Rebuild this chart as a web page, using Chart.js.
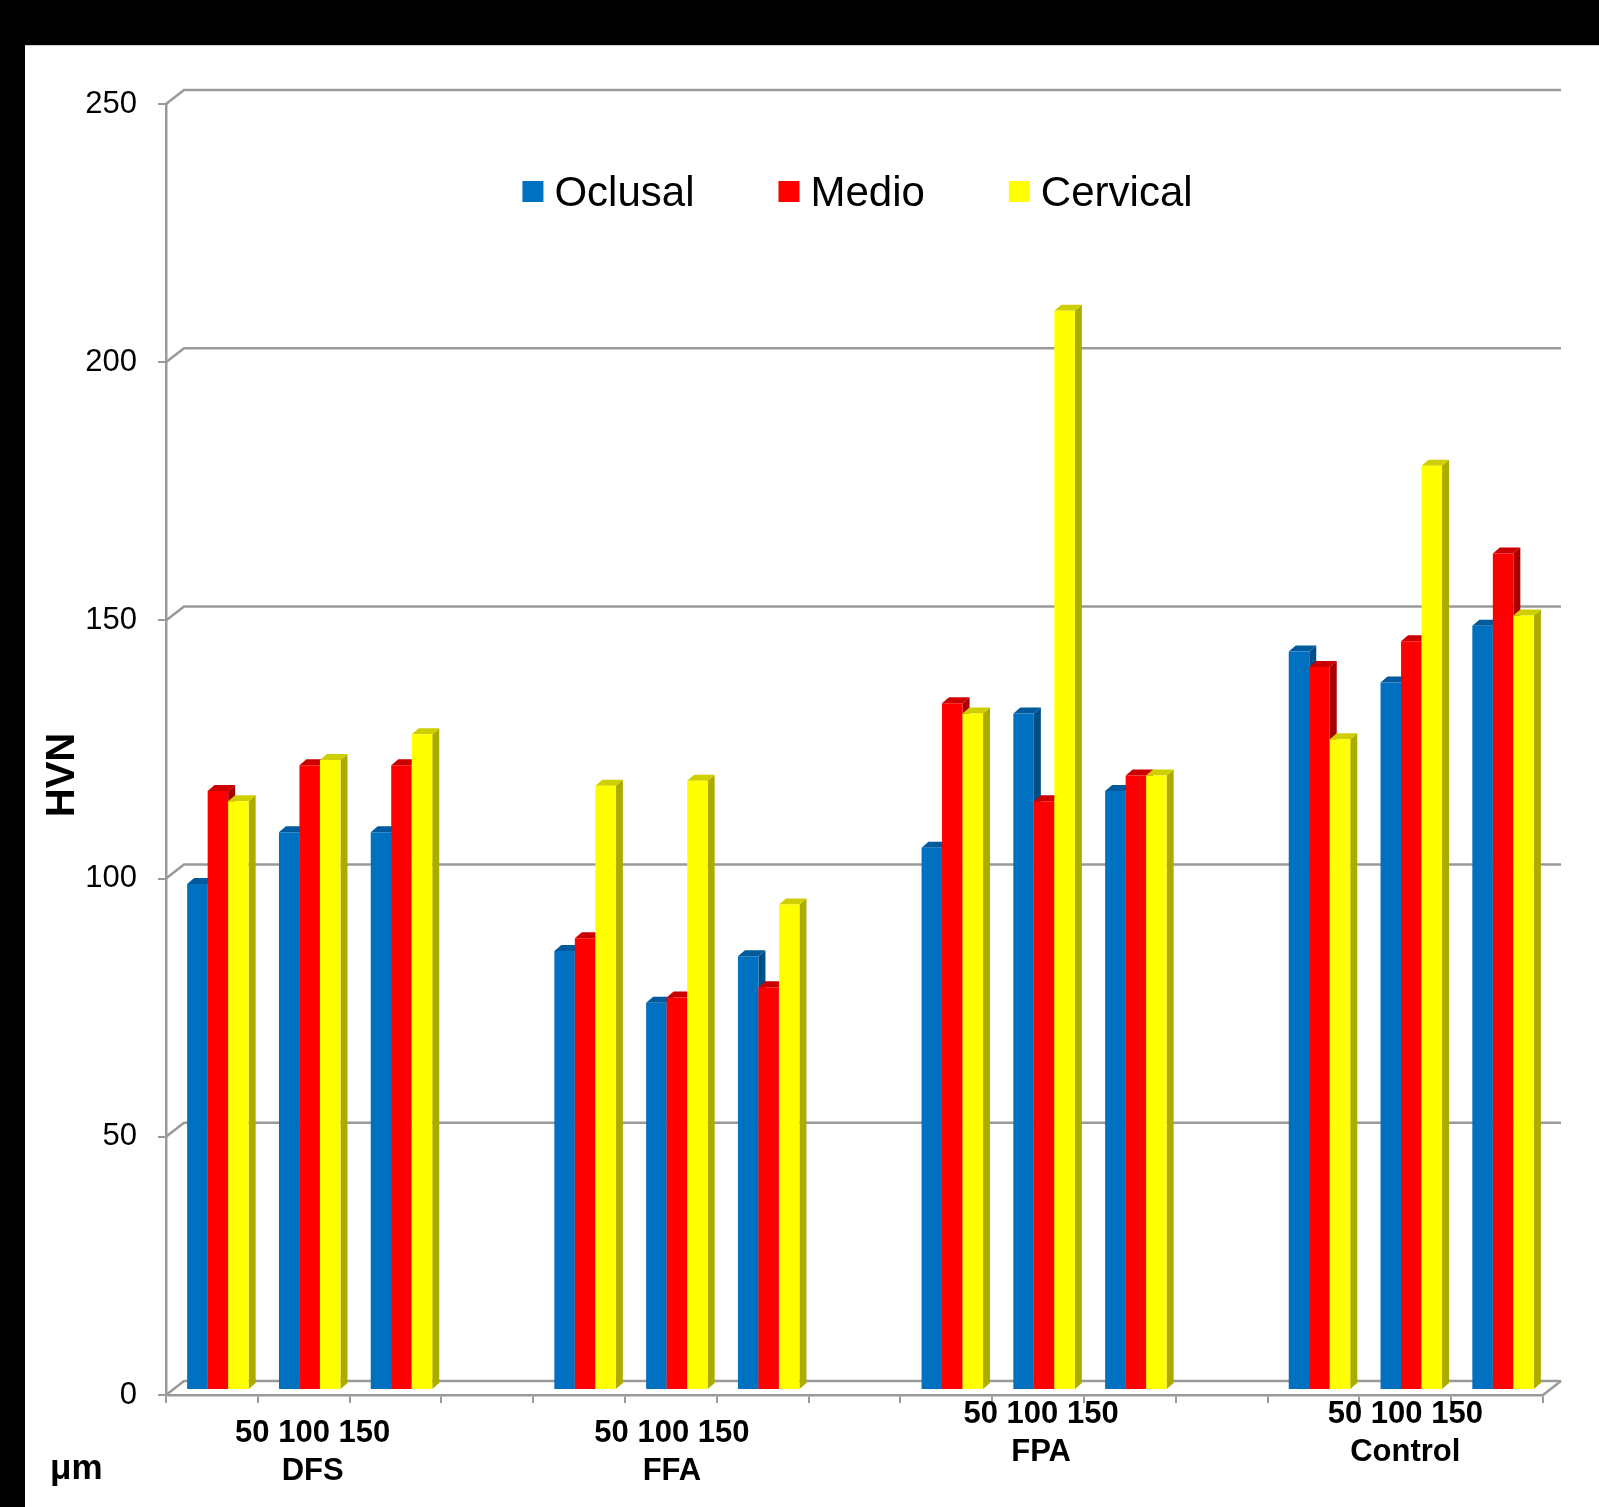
<!DOCTYPE html>
<html>
<head>
<meta charset="utf-8">
<title>HVN</title>
<script src="https://cdn.jsdelivr.net/npm/chart.js@4.4.1/dist/chart.umd.min.js"></script>
<style>
  html, body { margin: 0; padding: 0; background: #000; overflow: hidden; }
  canvas { display: block; }
</style>
</head>
<body>
<canvas id="chart" width="1599" height="1507"></canvas>
<script>
// ---- data ----
const groups = ['DFS', 'FFA', 'FPA', 'Control'];
const sizes = ['50', '100', '150'];
const unitLabel = 'μm';
const seriesNames = ['Oclusal', 'Medio', 'Cervical'];
// values per group, in order 50 / 100 / 150 µm
const oclusal  = [98, 108, 108,   85, 75, 84,    105, 131, 116,   143, 137, 148];
const medio    = [116, 121, 121,  87.5, 76, 78,  133, 114, 119,   140, 145, 162];
const cervical = [114, 122, 127,  117, 118, 94,  131, 209, 119,   126, 179, 150];
const yTicks = [0, 50, 100, 150, 200, 250];

// ---- styling ----
const FONT = "'Liberation Sans', Arial, Helvetica, sans-serif";
const axisGray = '#9a9a9a';
const faces = [
  { front: '#0070C0', top: '#005A9C', side: '#004E86' },
  { front: '#FF0000', top: '#CC0000', side: '#A80000' },
  { front: '#FFFF00', top: '#CFCF00', side: '#ABAB00' }
];
const depth = { planeX: 6, planeY: 5, barX: 7, barY: 6, wallX: 18, wallY: 14 };

// lay the groups out on one category axis, with an empty slot between groups
function toSlots(vals) {
  const out = [];
  groups.forEach((g, gi) => {
    out.push(...vals.slice(gi * 3, gi * 3 + 3));
    if (gi < groups.length - 1) out.push(null);
  });
  return out;
}
const slotLabels = [];
groups.forEach((g, gi) => {
  sizes.forEach(s => slotLabels.push(g + ' ' + s));
  if (gi < groups.length - 1) slotLabels.push('');
});

// page background: black frame with a white panel
const panel = {
  id: 'panel',
  beforeDraw(chart) {
    const { ctx, width, height } = chart;
    ctx.save();
    ctx.fillStyle = '#000';
    ctx.fillRect(0, 0, width, height);
    ctx.fillStyle = '#fff';
    ctx.fillRect(25, 45, width - 25, height - 45);
    ctx.strokeStyle = '#d0d0d0';
    ctx.lineWidth = 1;
    ctx.beginPath(); ctx.moveTo(25, 45.5); ctx.lineTo(width, 45.5); ctx.stroke();
    ctx.restore();
  }
};

// back wall, floor and extruded bars
const bars3d = {
  id: 'bars3d',
  beforeDatasetsDraw(chart) {
    const { ctx, chartArea: ca, scales: { x, y } } = chart;
    ctx.save();
    ctx.strokeStyle = axisGray;
    ctx.lineWidth = 2.5;
    y.ticks.forEach(t => {
      const py = y.getPixelForValue(t.value);
      ctx.beginPath();
      ctx.moveTo(ca.left, py);
      ctx.lineTo(ca.left + depth.wallX, py - depth.wallY);
      ctx.lineTo(ca.right + depth.wallX, py - depth.wallY);
      ctx.stroke();
    });
    ctx.beginPath();
    ctx.moveTo(ca.right, ca.bottom);
    ctx.lineTo(ca.right + depth.wallX, ca.bottom - depth.wallY);
    ctx.stroke();
    ctx.restore();

    ctx.save();
    ctx.translate(depth.planeX, -depth.planeY);
    const metas = chart.data.datasets.map((_, i) => chart.getDatasetMeta(i));
    for (let i = 0; i < chart.data.labels.length; i++) {
      metas.forEach((meta, d) => {
        const v = chart.data.datasets[d].data[i];
        if (v == null) return;
        const el = meta.data[i];
        const { x: bx, y: by, base, width } = el.getProps(['x', 'y', 'base', 'width'], true);
        const l = bx - width / 2, r = bx + width / 2;
        ctx.fillStyle = faces[d].side;
        ctx.beginPath();
        ctx.moveTo(r, by);
        ctx.lineTo(r + depth.barX, by - depth.barY);
        ctx.lineTo(r + depth.barX, base - depth.barY);
        ctx.lineTo(r, base);
        ctx.closePath();
        ctx.fill();
        ctx.fillStyle = faces[d].top;
        ctx.beginPath();
        ctx.moveTo(l, by);
        ctx.lineTo(l + depth.barX, by - depth.barY);
        ctx.lineTo(r + depth.barX, by - depth.barY);
        ctx.lineTo(r, by);
        ctx.closePath();
        ctx.fill();
        el.draw(ctx);
      });
    }
    ctx.restore();
    return false;
  }
};

// legend, group labels and axis captions
const captions = {
  id: 'captions',
  afterDraw(chart, args, opts) {
    const { ctx, chartArea: ca, scales: { x } } = chart;
    ctx.save();
    ctx.fillStyle = '#000';

    // legend
    ctx.font = `42px ${FONT}`;
    const box = 21, gap = 11, itemGap = 84;
    const widths = chart.data.datasets.map(ds => ctx.measureText(ds.label).width);
    const total = widths.reduce((a, w) => a + box + gap + w, 0) + itemGap * (widths.length - 1);
    let lx = (ca.left + ca.right) / 2 - total / 2 + 3;
    chart.data.datasets.forEach((ds, i) => {
      ctx.fillStyle = ds.backgroundColor;
      ctx.fillRect(lx, 181, box, box);
      ctx.fillStyle = '#000';
      ctx.textAlign = 'left';
      ctx.textBaseline = 'alphabetic';
      ctx.fillText(ds.label, lx + box + gap, 206);
      lx += box + gap + widths[i] + itemGap;
    });

    // group labels under the axis
    ctx.font = `bold 31px ${FONT}`;
    ctx.textAlign = 'center';
    groups.forEach((g, gi) => {
      const cx = x.getPixelForValue(gi * 4 + 1) + opts.shift[gi];
      const base = 1442 - opts.lift[gi];
      ctx.fillText(sizes.join(' '), cx, base);
      ctx.fillText(g, cx, base + 38);
    });

    // unit
    ctx.font = `bold 35px ${FONT}`;
    ctx.textAlign = 'left';
    ctx.fillText(unitLabel, 50, 1479);

    // value axis title
    ctx.font = `bold 40px ${FONT}`;
    ctx.translate(74, 775);
    ctx.rotate(-Math.PI / 2);
    ctx.textAlign = 'center';
    ctx.fillText('HVN', 0, 0);
    ctx.restore();
  }
};

Chart.defaults.font.family = FONT;

new Chart(document.getElementById('chart'), {
  type: 'bar',
  data: {
    labels: slotLabels,
    datasets: [
      { label: seriesNames[0], data: toSlots(oclusal),  backgroundColor: faces[0].front },
      { label: seriesNames[1], data: toSlots(medio),    backgroundColor: faces[1].front },
      { label: seriesNames[2], data: toSlots(cervical), backgroundColor: faces[2].front }
    ]
  },
  options: {
    responsive: false,
    animation: false,
    devicePixelRatio: 1,
    layout: { padding: { left: 0, top: 104, right: 56, bottom: 0 } },
    datasets: { bar: { categoryPercentage: 0.67, barPercentage: 1, borderWidth: 0 } },
    plugins: {
      legend: { display: false },
      tooltip: { enabled: false },
      captions: { shift: [9, 1, 3, 0], lift: [0, 0, 19, 19] }
    },
    scales: {
      x: {
        grid: { display: true, drawOnChartArea: false, drawTicks: true, tickLength: 8, color: axisGray, lineWidth: 2, offset: true },
        border: { display: true, color: axisGray, width: 2.5 },
        ticks: { display: false, autoSkip: false },
        afterFit(s) { s.height = 112; }
      },
      y: {
        min: yTicks[0],
        max: yTicks[yTicks.length - 1],
        afterBuildTicks(s) { s.ticks = yTicks.map(v => ({ value: v })); },
        grid: { display: true, drawOnChartArea: false, drawTicks: true, tickLength: 8, color: axisGray, lineWidth: 2 },
        border: { display: true, color: axisGray, width: 2.5 },
        ticks: { color: '#000', font: { size: 31 }, padding: 21 },
        afterFit(s) { s.width = 166; }
      }
    }
  },
  plugins: [panel, bars3d, captions]
});
</script>
</body>
</html>
